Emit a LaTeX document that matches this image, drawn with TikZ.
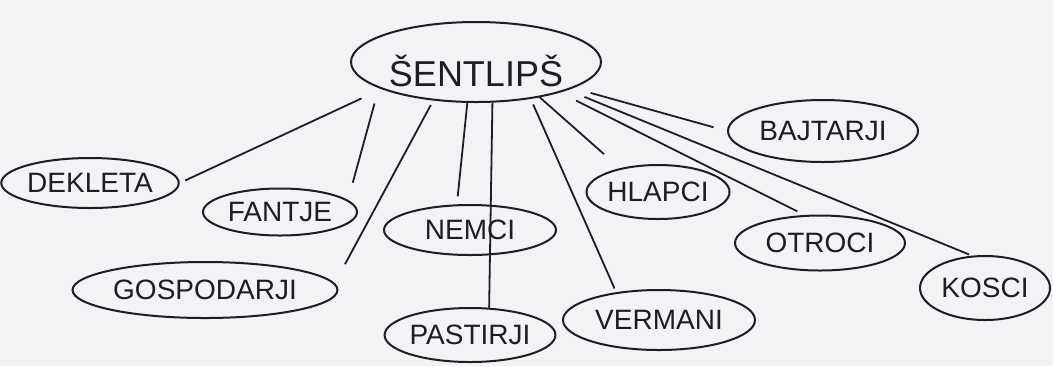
\documentclass[tikz,border=0pt]{standalone}
\usepackage{fontspec}
\setmainfont{Liberation Sans}
\usetikzlibrary{shapes.geometric}
\definecolor{papir}{RGB}{245,242,246}
\definecolor{crnilo}{RGB}{30,30,34}

\begin{document}
\begin{tikzpicture}[x=0.5pt,y=-0.5pt,
  skupina/.style={draw=crnilo, ellipse, line width=1pt, inner sep=0pt, text=crnilo, font=\fontsize{14}{16}\selectfont},
  veza/.style={draw=crnilo, line width=0.9pt}]
\fill [papir] (0,0) rectangle (1053,366);
\useasboundingbox (0,0) rectangle (1053,366);
\node [skupina, minimum width=125pt, minimum height=40pt, text height=24pt, text depth=0pt, font=\fontsize{18}{20}\selectfont] (sentlips) at (476,62) {ŠENTLIPŠ};
\node [skupina, minimum width=82pt, minimum height=25pt] (dekleta) at (90,183) {DEKLETA};
\node [skupina, minimum width=77pt, minimum height=23.5pt] (fantje) at (280,212) {FANTJE};
\node [skupina, minimum width=132.5pt, minimum height=28pt] (gospodarji) at (205,290) {GOSPODARJI};
\node [skupina, minimum width=86pt, minimum height=25pt] (nemci) at (470,230) {NEMCI};
\node [skupina, minimum width=83.5pt, minimum height=27pt] (pastirji) at (470,335) {PASTIRJI};
\node [skupina, minimum width=96pt, minimum height=30pt] (vermani) at (659,320) {VERMANI};
\node [skupina, minimum width=70pt, minimum height=27pt] (hlapci) at (658,192) {HLAPCI};
\node [skupina, minimum width=85pt, minimum height=27.5pt] (otroci) at (820,243) {OTROCI};
\node [skupina, minimum width=95pt, minimum height=31pt] (bajtarji) at (823,131) {BAJTARJI};
\node [skupina, minimum width=65pt, minimum height=32pt] (kosci) at (985,288) {KOSCI};
\draw [veza, shorten <=11pt, shorten >=3pt] (sentlips.196.6) -- (dekleta.east);
\draw [veza, shorten <=8pt, shorten >=9pt] (sentlips.195.2) -- (fantje.10);
\draw [veza, shorten <=2.5pt, shorten >=10.8pt] (sentlips.222.8) -- (gospodarji.3);
\draw [veza, shorten >=4pt] (sentlips.258.4) -- (nemci.117.8);
\draw [veza] (sentlips.292.3) -- (pastirji.55.7);
\draw [veza, shorten <=3pt, shorten >=2pt] (sentlips.326.2) -- (vermani.147);
\draw [veza, shorten >=10.6pt] (sentlips.331.3) -- (hlapci.148);
\draw [veza, shorten <=9pt, shorten >=7pt] (sentlips.345.5) -- (bajtarji.west);
\draw [veza, shorten <=9pt, shorten >=4pt] (sentlips.340) -- (otroci.119);
\draw [veza, shorten <=9pt, shorten >=1.5pt] (sentlips.343.6) -- (kosci.112.7);
\end{tikzpicture}
\end{document}
